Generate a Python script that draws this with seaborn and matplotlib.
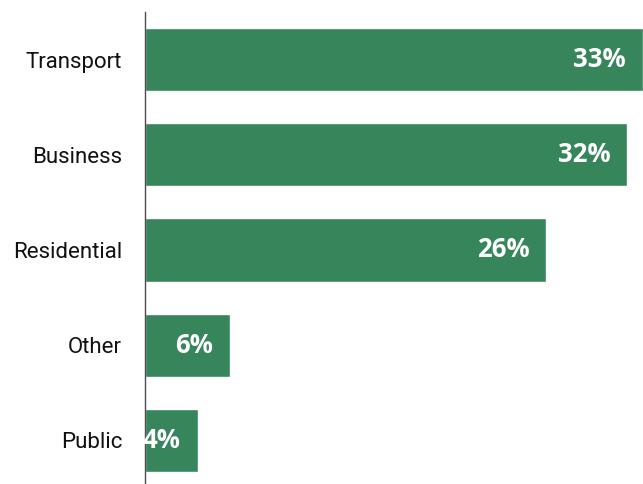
import pandas as pd
import matplotlib.pyplot as plt
import seaborn as sns

# data
sectors = ["Transport", "Business", "Residential", "Other", "Public"]
shares = [33.0, 31.95, 26.6, 5.6, 3.5]
share_labels = ["33%", "32%", "26%", "6%", "4%"]

df = pd.DataFrame({"sector": sectors, "share": shares})

sns.set_style("white")
plt.rcParams["font.family"] = ["Roboto", "DejaVu Sans"]

fig = plt.figure(figsize = (6.43, 4.84), dpi = 100)
ax = fig.add_axes([145 / 643, 0, 1 - 145 / 643, 472 / 484])

sns.barplot(data = df, x = "share", y = "sector", orient = "h", color = "#37855b",
            saturation = 1, width = 0.663, ax = ax)

# value labels inside the bar ends
for i, (val, lab) in enumerate(zip(shares, share_labels)):
    ax.annotate(lab, xy = (val, i), xytext = (-17, 0), textcoords = "offset pixels",
                ha = "right", va = "center", color = "white", fontsize = 18.5,
                fontweight = "bold", family = ["Open Sans", "DejaVu Sans"])

ax.set_xlim(0, 33.0)
ax.set_ylim(4.458, -0.5)
ax.set_xlabel("")
ax.set_ylabel("")
ax.set_xticks([])
ax.tick_params(axis = "y", length = 0, pad = 16.5, labelsize = 16, labelcolor = "#111111")
for side in ["top", "right", "bottom"]:
    ax.spines[side].set_visible(False)
ax.spines["left"].set_color("#4d4d4d")
ax.spines["left"].set_linewidth(1.0)

fig.savefig("out.png", dpi = 100)
